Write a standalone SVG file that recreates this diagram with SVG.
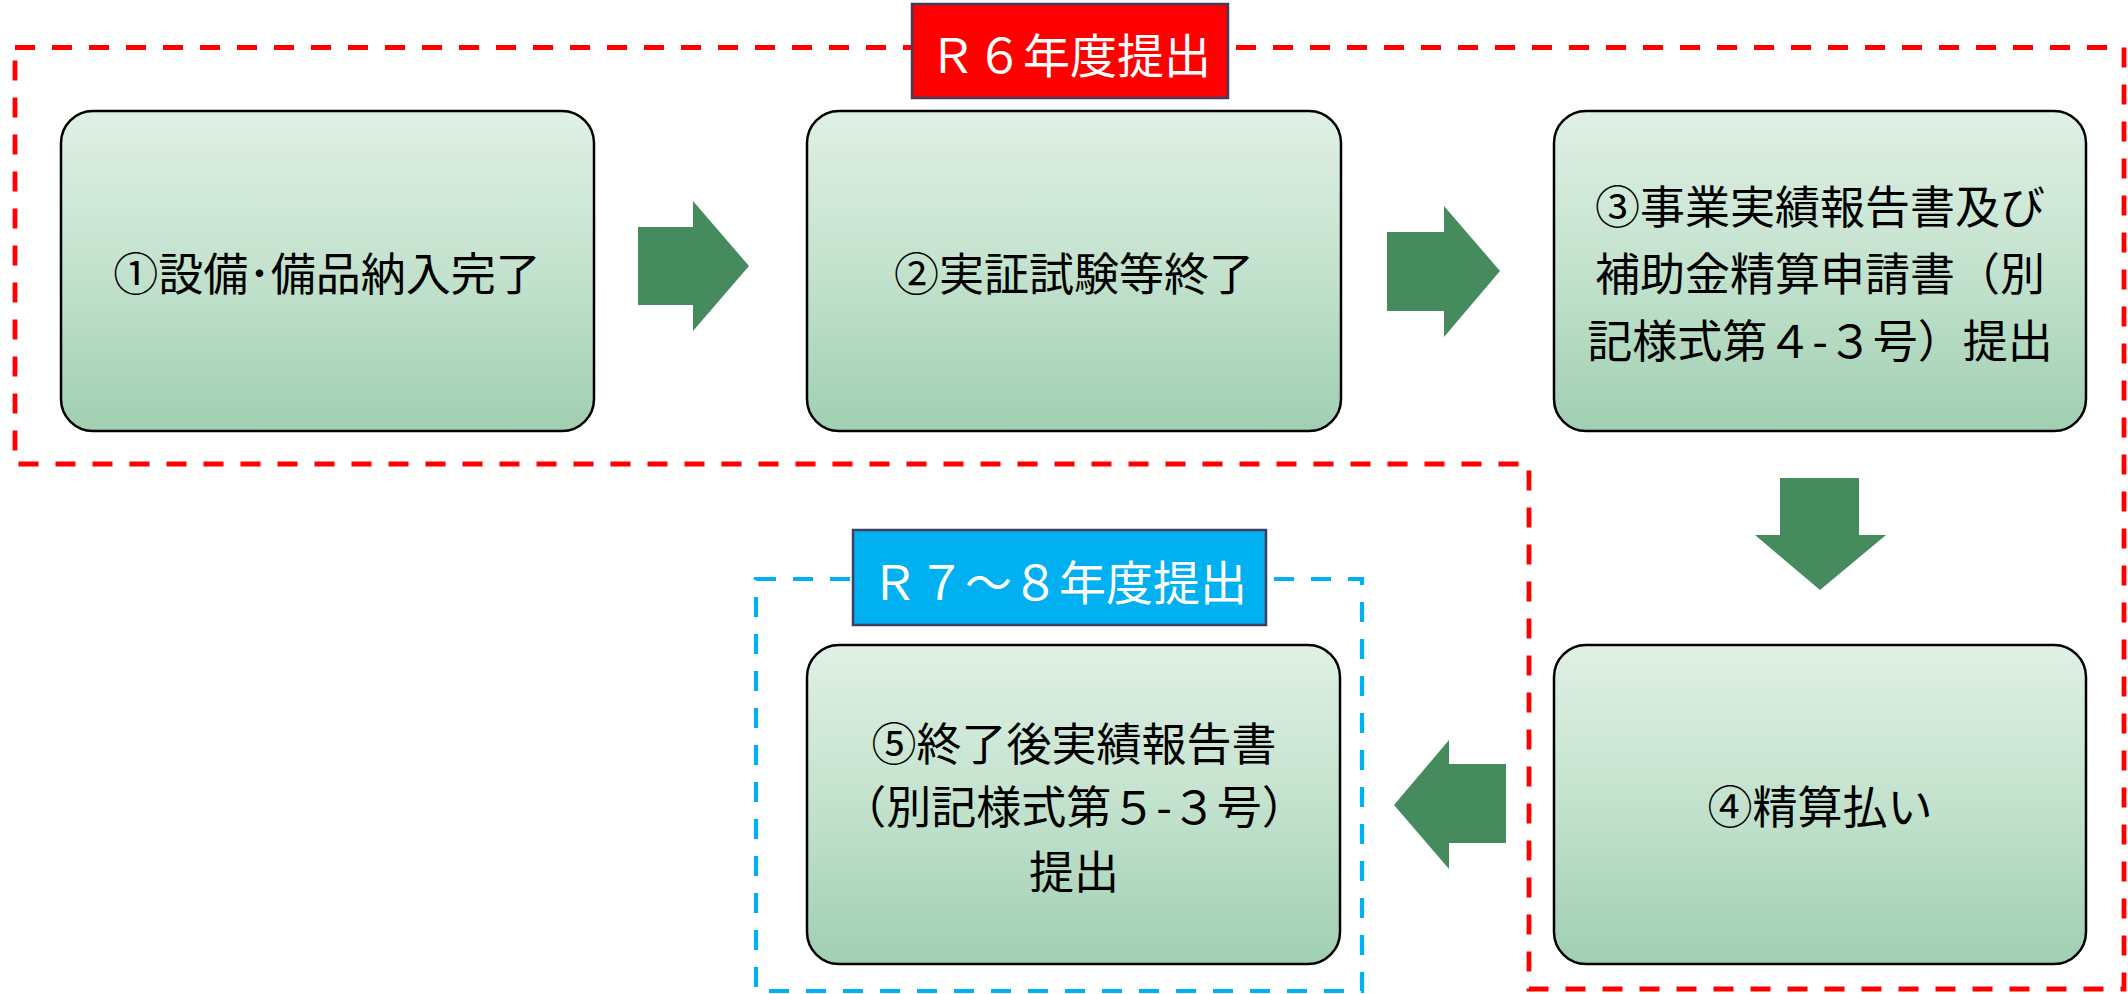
<svg xmlns="http://www.w3.org/2000/svg" width="2128" height="994" viewBox="0 0 2128 994">
<defs>
<linearGradient id="g" x1="0" y1="0" x2="0" y2="1">
<stop offset="0" stop-color="#E0F0E5"/>
<stop offset="0.5" stop-color="#C3E2CD"/>
<stop offset="1" stop-color="#A0CFB2"/>
</linearGradient>
<style>
.box{fill:url(#g);stroke:#000;stroke-width:2.5}
.t{font-family:"Noto Sans CJK JP","Noto Sans",sans-serif;font-size:45px;fill:#000;text-anchor:middle;dominant-baseline:central}
.lt{font-family:"Noto Sans CJK JP","Noto Sans",sans-serif;font-size:47px;fill:#fff;text-anchor:middle;dominant-baseline:central}
.arr{fill:#468B5E}
.red{fill:none;stroke:#FF0000;stroke-width:4.8;stroke-dasharray:20 17}
.blue{fill:none;stroke:#00B0F0;stroke-width:4.2;stroke-dasharray:20 17}
</style>
</defs>
<rect width="2128" height="994" fill="#fff"/>
<g id="groups">
<path class="red" d="M15,47.5 H2124 V989 H1529 V464 H15 Z"/>
<rect class="blue" x="756" y="579" width="606" height="412"/>
</g>
<g id="label-r6">
<rect x="912" y="4" width="316" height="94" fill="#FF0000" stroke="#3F3D62" stroke-width="2.5"/>
<text class="lt" x="1070" y="52">Ｒ６年度提出</text>
</g>
<g id="label-r78">
<rect x="853" y="530" width="413" height="95" fill="#00B0F0" stroke="#3F3D62" stroke-width="2.5"/>
<text class="lt" x="1059" y="579">Ｒ７～８年度提出</text>
</g>
<g id="node1">
<rect class="box" x="61" y="111" width="533" height="320" rx="32"/>
<text class="t" x="327" y="271">①設備･備品納入完了</text>
</g>
<g id="node2">
<rect class="box" x="807" y="111" width="534" height="320" rx="32"/>
<text class="t" x="1074" y="271">②実証試験等終了</text>
</g>
<g id="node3">
<rect class="box" x="1554" y="111" width="532" height="320" rx="32"/>
<text class="t" x="1820" y="204">③事業実績報告書及び</text>
<text class="t" x="1820" y="271">補助金精算申請書（別</text>
<text class="t" x="1820" y="338">記様式第４-３号）提出</text>
</g>
<g id="node4">
<rect class="box" x="1554" y="645" width="532" height="319" rx="32"/>
<text class="t" x="1820" y="804">④精算払い</text>
</g>
<g id="node5">
<rect class="box" x="807" y="645" width="533" height="319" rx="32"/>
<text class="t" x="1074" y="741">⑤終了後実績報告書</text>
<text class="t" x="1074" y="804">（別記様式第５-３号）</text>
<text class="t" x="1074" y="869">提出</text>
</g>
<g id="connectors">
<polygon class="arr" points="638,227 693,227 693,201 749,266 693,331 693,305 638,305"/>
<polygon class="arr" points="1387,232 1444,232 1444,206 1500,271 1444,337 1444,311 1387,311"/>
<polygon class="arr" points="1780,478 1859,478 1859,535 1886,535 1820,590 1755,535 1780,535"/>
<polygon class="arr" points="1506,764 1449,764 1449,740 1394,805 1449,869 1449,843 1506,843"/>
</g>
</svg>
